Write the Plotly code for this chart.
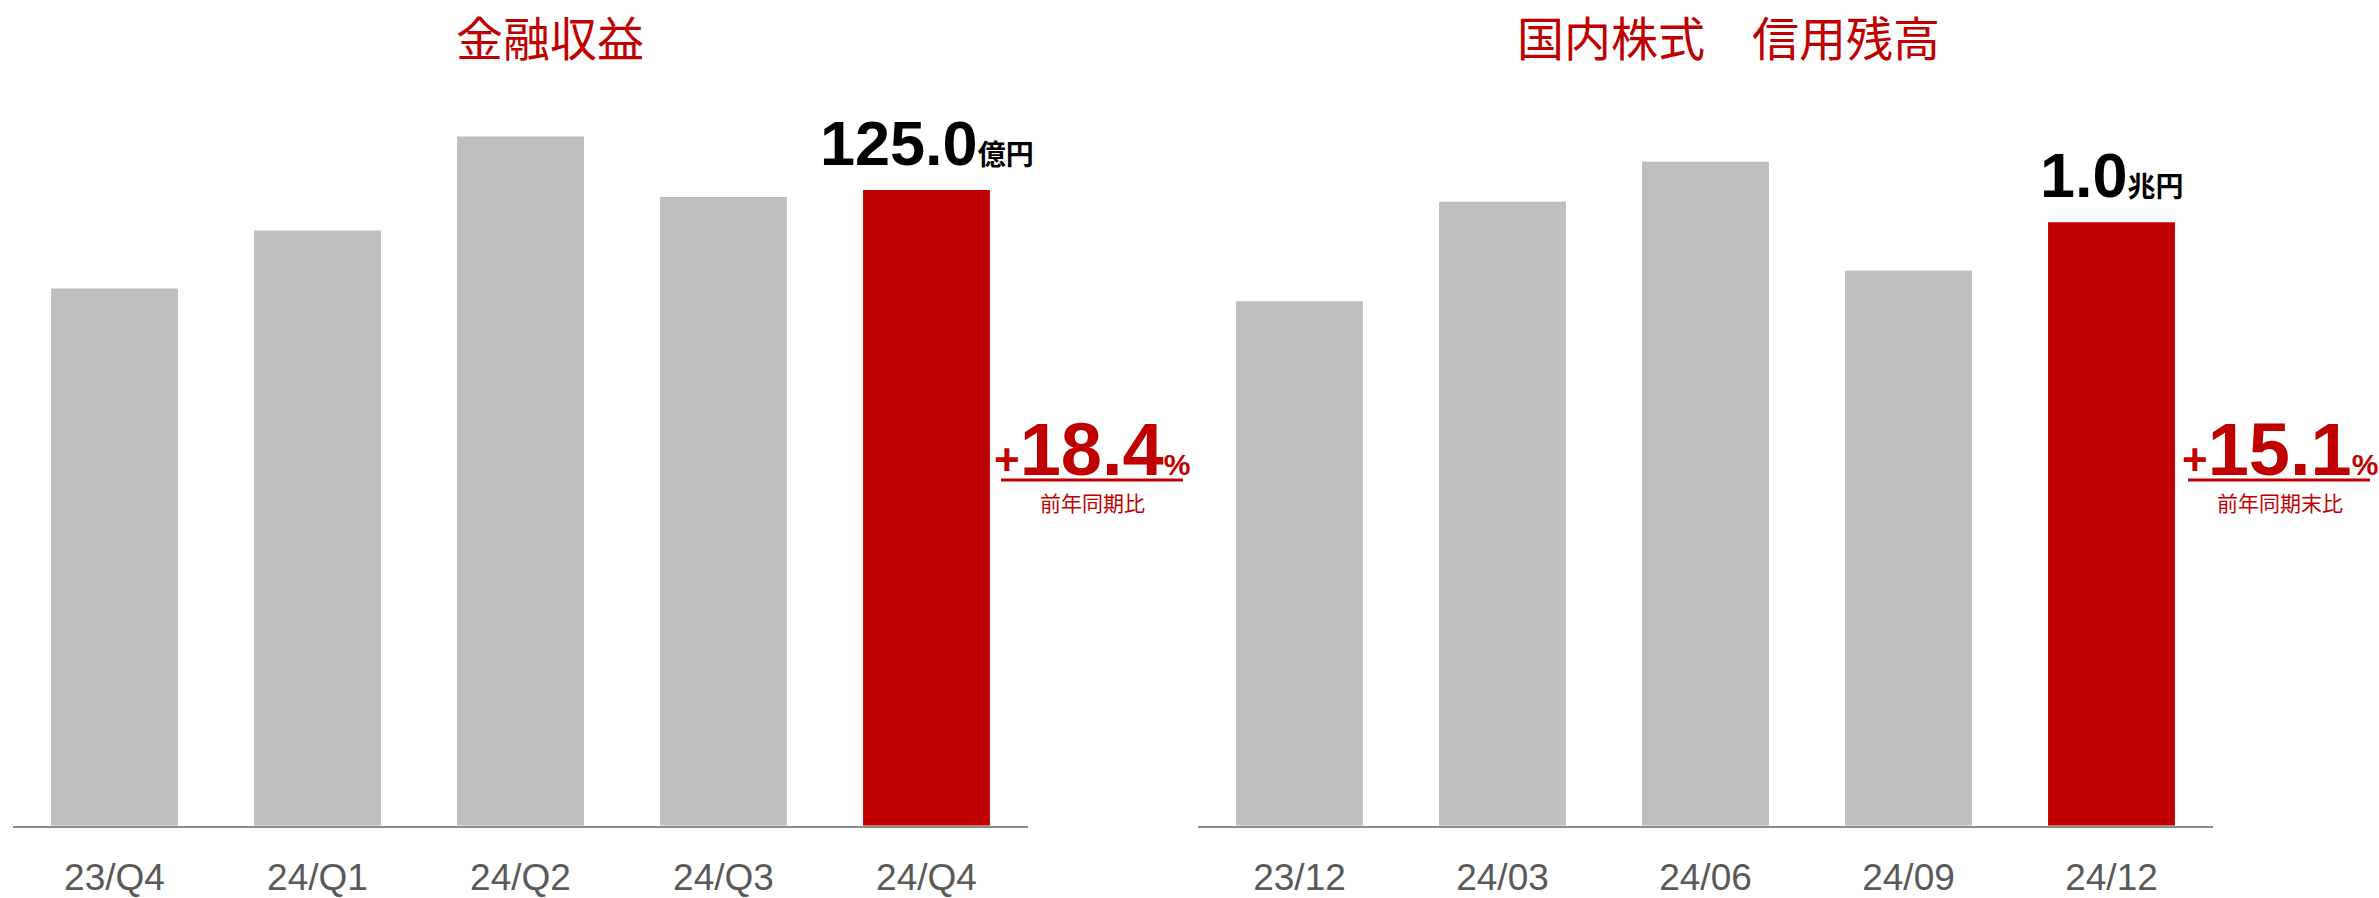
import plotly.graph_objects as go

W, H = 2379, 898

# left panel: 金融収益 (億円)
left_title = "金融収益"
left_cats = ["23/Q4", "24/Q1", "24/Q2", "24/Q3", "24/Q4"]
left_vals = [105.6, 117.0, 135.5, 123.6, 125.0]
left_label = "125.0"
left_unit = "億円"
left_growth = "18.4"
left_note = "前年同期比"

# right panel: 国内株式 信用残高 (兆円)
right_title = "国内株式\u3000信用残高"
right_cats = ["23/12", "24/03", "24/06", "24/09", "24/12"]
right_vals = [0.869, 1.034, 1.100, 0.920, 1.000]
right_label = "1.0"
right_unit = "兆円"
right_growth = "15.1"
right_note = "前年同期末比"

GRAY = "#BFBFBF"
RED = "#C00000"
LATIN = "Liberation Sans, Arial, Noto Sans CJK JP"
CJK = "Noto Sans CJK JP, Noto Sans CJK SC"


def px_x(p):
    return p / W


def px_y(p):
    return (H - p) / H


fig = go.Figure()
fig.add_trace(go.Bar(x=left_cats, y=left_vals, width=0.625,
                     marker=dict(color=[GRAY] * 4 + [RED], line=dict(width=0)),
                     xaxis="x", yaxis="y", hoverinfo="x+y"))
fig.add_trace(go.Bar(x=right_cats, y=right_vals, width=0.625,
                     marker=dict(color=[GRAY] * 4 + [RED], line=dict(width=0)),
                     xaxis="x2", yaxis="y2", hoverinfo="x+y"))

xcommon = dict(type="category", range=[-0.5, 4.5], showline=True, linecolor="#8c8c8c",
               linewidth=2, ticks="", showgrid=False, zeroline=False, fixedrange=True,
               tickfont=dict(family=LATIN, size=37, color="#595959"),
               ticklabelstandoff=18)
ycommon = dict(visible=False, showgrid=False, zeroline=False, fixedrange=True,
               domain=[px_y(836), px_y(115)])

fig.update_layout(
    width=W, height=H,
    margin=dict(l=0, r=0, t=0, b=0),
    paper_bgcolor="white", plot_bgcolor="white",
    showlegend=False,
    xaxis=dict(xcommon, domain=[px_x(13), px_x(1028)]),
    xaxis2=dict(xcommon, domain=[px_x(1198), px_x(2213)], anchor="y2"),
    yaxis=dict(ycommon, range=[0, 140]),
    yaxis2=dict(ycommon, range=[0, 1.18], anchor="x2"),
)

panels = [
    dict(title=left_title, tx=550, cats=left_cats, vals=left_vals, xr="x", yr="y",
         label=left_label, unit=left_unit, growth=left_growth, note=left_note,
         gx=1092, ux0=1001, ux1=1183),
    dict(title=right_title, tx=1728, cats=right_cats, vals=right_vals, xr="x2", yr="y2",
         label=right_label, unit=right_unit, growth=right_growth, note=right_note,
         gx=2280, ux0=2188, ux1=2370),
]

for p in panels:
    # panel title
    fig.add_annotation(text=p["title"], x=px_x(p["tx"]), y=px_y(36), xref="paper", yref="paper",
                       xanchor="center", yanchor="middle", showarrow=False,
                       font=dict(family=CJK, size=47, color=RED))
    # value label on the latest bar
    fig.add_annotation(text=f"<b>{p['label']}<span style='font-size:28px'>{p['unit']}</span></b>",
                       x=p["cats"][-1], y=p["vals"][-1], xref=p["xr"], yref=p["yr"],
                       xanchor="center", yanchor="bottom", yshift=10, showarrow=False,
                       font=dict(family=LATIN, size=63, color="black"))
    # growth rate
    fig.add_annotation(text=f"<b><span style='font-size:44px'>+</span>{p['growth']}"
                            f"<span style='font-size:30px'>%</span></b>",
                       x=px_x(p["gx"]), y=px_y(455), xref="paper", yref="paper",
                       xanchor="center", yanchor="middle", showarrow=False,
                       font=dict(family=LATIN, size=74, color=RED))
    fig.add_shape(type="line", xref="paper", yref="paper",
                  x0=px_x(p["ux0"]), x1=px_x(p["ux1"]), y0=px_y(486), y1=px_y(486),
                  line=dict(color=RED, width=3))
    fig.add_annotation(text=p["note"], x=px_x(p["gx"]), y=px_y(508), xref="paper", yref="paper",
                       xanchor="center", yanchor="middle", showarrow=False,
                       font=dict(family=CJK, size=21, color=RED))

# pin the page to exactly the figure size (no default body margin, nothing below)
page_fix = (
    "var h=document.documentElement, b=document.body;"
    "b.style.margin='0'; b.style.overflow='hidden';"
    f"b.style.width='{W}px'; b.style.height='{H}px';"
    "h.style.overflow='hidden';"
    f"h.style.width='{W}px'; h.style.height='{H}px';"
)

fig.write_html("out.html", post_script=page_fix, config={"displayModeBar": False})
